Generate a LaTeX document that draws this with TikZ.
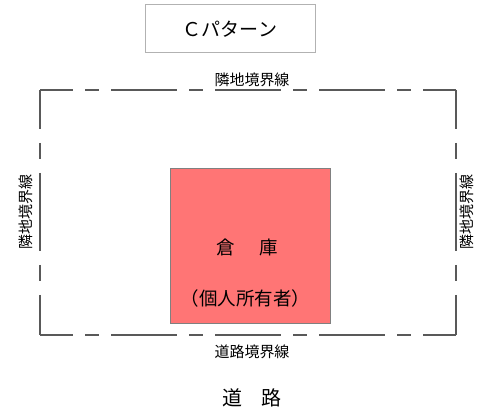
\documentclass[tikz,border=0pt]{standalone}
\usepackage{fontspec}
\setmainfont{Noto Sans CJK JP}
\definecolor{soko}{HTML}{FF7575}
\begin{document}
\begin{tikzpicture}
  [x=1pt,y=-1pt,
    sideh/.style={draw=black!65,line width=1.2pt,
      dash pattern=on 66pt off 12pt on 14pt off 12pt,dash phase=33pt},
    sidev/.style={draw=black!65,line width=1.2pt,
      dash pattern=on 78pt off 14pt on 16pt off 14pt,dash phase=39pt},
    label/.style={font=\fontsize{15}{15}\selectfont,inner sep=0pt}]
  \useasboundingbox (0,0) rectangle (483,414);
  % Grenze
  \coordinate (nw) at (40,90);
  \coordinate (ne) at (456,90);
  \coordinate (sw) at (40,335);
  \coordinate (se) at (456,335);
  \draw[sideh] (nw) -- (ne);
  \draw[sideh] (sw) -- (se);
  \draw[sidev] (nw) -- (sw);
  \draw[sidev] (ne) -- (se);
  \node[draw=black!30,line width=1pt,minimum width=170pt,minimum height=48pt,
    font=\fontsize{19}{19}\selectfont] (title) at (230,29) {Ｃパターン};
  \node[draw=black!50,fill=soko,minimum width=160pt,minimum height=155pt]
    (soko) at (250,245.5) {};
  \node[font=\fontsize{18.5}{18.5}\selectfont] (name) at (247.5,247)
    {倉\hspace{25pt}庫};
  \node[font=\fontsize{18.5}{18.5}\selectfont] (owner) at (245.5,298)
    {（個人所有者）};
  \node[label] (top) at (252,80) {隣地境界線};
  \node[label] (bottom) at (252,352) {道路境界線};
  \node[label,rotate=90] (left) at (26,212) {隣地境界線};
  \node[label,rotate=90] (right) at (467,212) {隣地境界線};
  \node[font=\fontsize{20}{20}\selectfont] (road) at (252,398) {道　路};
\end{tikzpicture}
\end{document}
